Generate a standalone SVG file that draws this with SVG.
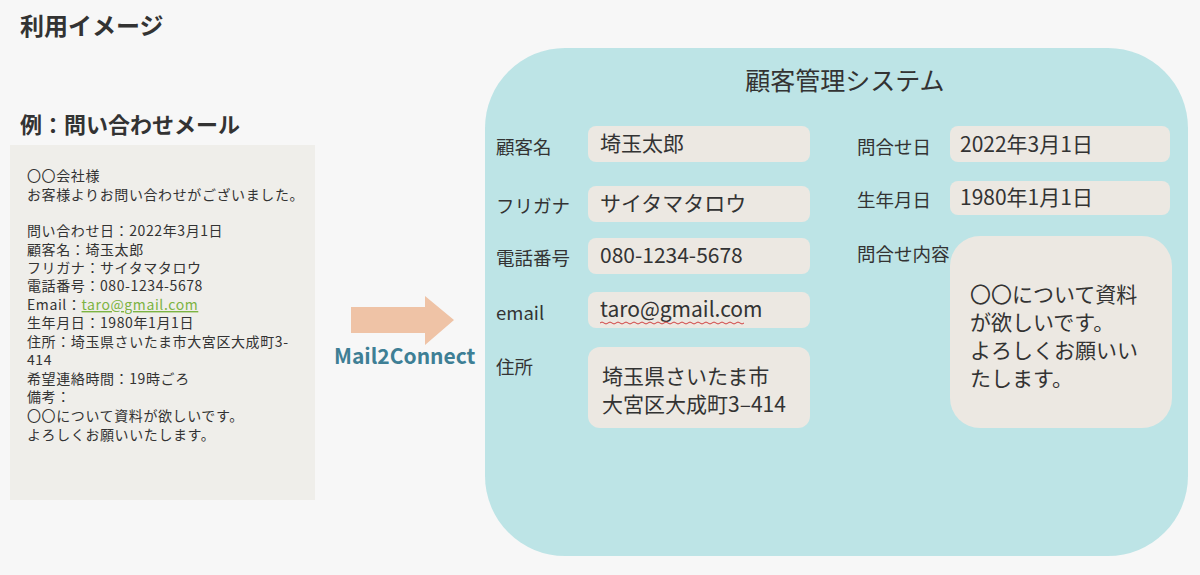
<svg xmlns="http://www.w3.org/2000/svg" width="1200" height="575" viewBox="0 0 1200 575">
<style>
text{font-family:"Noto Sans CJK JP","Noto Sans",sans-serif;fill:#333}
.m{font-size:14px;letter-spacing:0.6px}
.lb{font-size:18.5px}
.v{font-size:21px}
.box{fill:#ece8e2}
</style>
<rect width="1200" height="575" fill="#f7f7f7"/>
<text x="20" y="35" font-size="24" font-weight="bold">利用イメージ</text>
<text x="20" y="133" font-size="22" font-weight="bold">例：問い合わせメール</text>
<g id="mail">
<rect x="10" y="145" width="305" height="355" fill="#efeeea"/>
<text class="m" x="27" y="181">〇〇会社様</text>
<text class="m" x="27" y="200">お客様よりお問い合わせがございました。</text>
<text class="m" x="27" y="236">問い合わせ日：2022年3月1日</text>
<text class="m" x="27" y="255">顧客名：埼玉太郎</text>
<text class="m" x="27" y="273">フリガナ：サイタマタロウ</text>
<text class="m" x="27" y="291">電話番号：080-1234-5678</text>
<text class="m" x="27" y="310">Email：<tspan fill="#7cb342" text-decoration="underline">taro@gmail.com</tspan></text>
<text class="m" x="27" y="328">生年月日：1980年1月1日</text>
<text class="m" x="27" y="347">住所：埼玉県さいたま市大宮区大成町3-</text>
<text class="m" x="27" y="365">414</text>
<text class="m" x="27" y="384">希望連絡時間：19時ごろ</text>
<text class="m" x="27" y="402">備考：</text>
<text class="m" x="27" y="421">〇〇について資料が欲しいです。</text>
<text class="m" x="27" y="440">よろしくお願いいたします。</text>
</g>
<g id="connectors">
<path d="M351,307 H425 V296 L454,320 L425,345 V333 H351 Z" fill="#efc3a6"/>
<text x="334" y="364" font-size="21" font-weight="bold" style="fill:#3e7f95">Mail2Connect</text>
</g>
<g id="system">
<rect x="485" y="48" width="703" height="508" rx="80" fill="#bde4e6"/>
<text x="845" y="90" font-size="25" text-anchor="middle">顧客管理システム</text>
<text class="lb" x="496" y="154">顧客名</text>
<rect class="box" x="588" y="126" width="222" height="36" rx="8"/>
<text class="v" x="600" y="151">埼玉太郎</text>
<text class="lb" x="496" y="213">フリガナ</text>
<rect class="box" x="588" y="186" width="222" height="36" rx="8"/>
<text class="v" x="600" y="211">サイタマタロウ</text>
<text class="lb" x="496" y="265">電話番号</text>
<rect class="box" x="588" y="238" width="222" height="36" rx="8"/>
<text class="v" x="600" y="263">080-1234-5678</text>
<text class="lb" x="496" y="320" font-size="17">email</text>
<rect class="box" x="588" y="292" width="222" height="36" rx="8"/>
<text class="v" x="600" y="317">taro@gmail.com</text>
<path d="M600,323 q2,-2 4,0 t4,0 t4,0 t4,0 t4,0 t4,0 t4,0 t4,0 t4,0 t4,0 t4,0 t4,0 t4,0 t4,0 t4,0 t4,0 t4,0 t4,0 t4,0 t4,0 t4,0 t4,0 t4,0 t4,0 t4,0 t4,0 t4,0 t4,0 t4,0 t4,0 t4,0 t4,0 t4,0 t4,0 t4,0 t4,0" fill="none" stroke="#d04040" stroke-width="1"/>
<text class="lb" x="496" y="374">住所</text>
<rect class="box" x="588" y="347" width="222" height="81" rx="12"/>
<text class="v" x="602" y="384" font-size="22">埼玉県さいたま市</text>
<text class="v" x="602" y="412" font-size="22">大宮区大成町3–414</text>
<text class="lb" x="857" y="154">問合せ日</text>
<rect class="box" x="950" y="126" width="220" height="36" rx="8"/>
<text class="v" x="960" y="152" font-size="20">2022年3月1日</text>
<text class="lb" x="857" y="207">生年月日</text>
<rect class="box" x="950" y="181" width="220" height="34" rx="8"/>
<text class="v" x="960" y="205" font-size="20">1980年1月1日</text>
<text class="lb" x="857" y="261" font-size="16">問合せ内容</text>
<rect class="box" x="950" y="236" width="222" height="192" rx="30"/>
<text class="v" x="970" y="302">〇〇について資料</text>
<text class="v" x="970" y="330">が欲しいです。</text>
<text class="v" x="970" y="358">よろしくお願いい</text>
<text class="v" x="970" y="386">たします。</text>
</g>
</svg>
